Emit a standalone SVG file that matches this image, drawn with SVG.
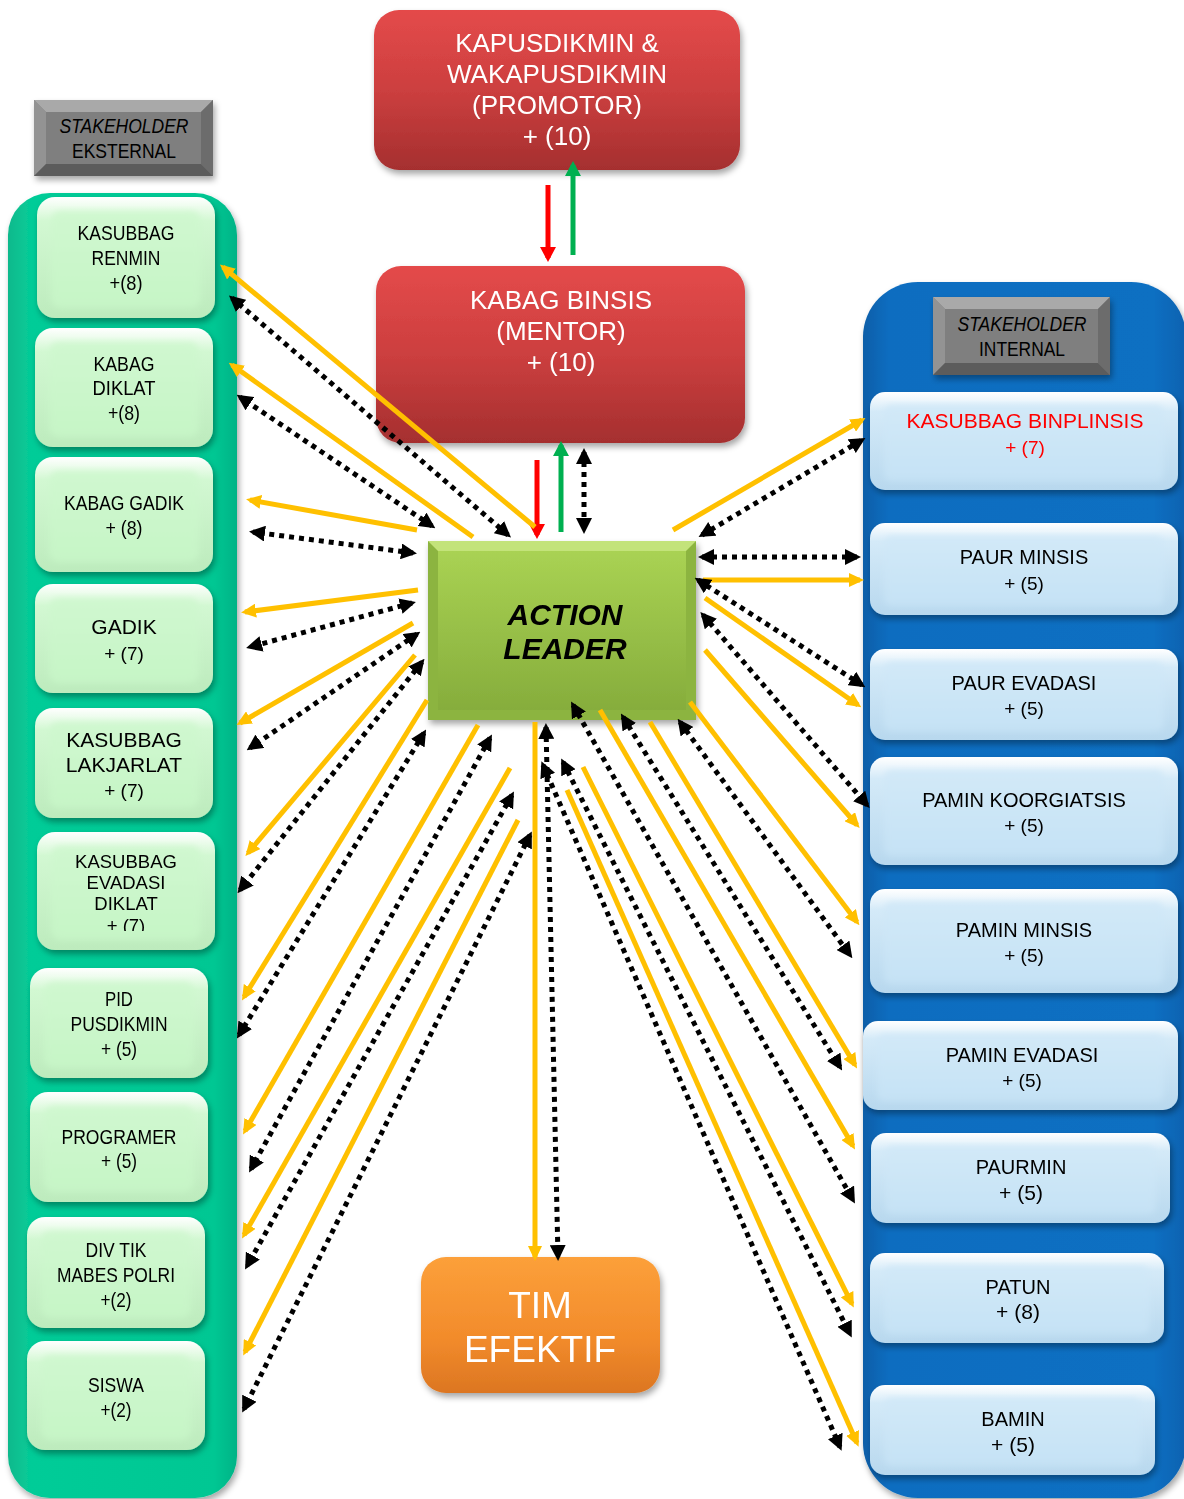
<svg xmlns="http://www.w3.org/2000/svg" width="1184" height="1499" viewBox="0 0 1184 1499">
<style>
text{font-family:"Liberation Sans",Arial,sans-serif;text-anchor:middle;fill:#000}
.n21{font-size:21px}
.n20{font-size:20px}
.n19{font-size:19px}
.n18{font-size:18.5px}
.w{fill:#fff}
.red{fill:#ff0000}
.yl{stroke:#ffc000;stroke-width:5;fill:none;marker-end:url(#ay)}
.dl{stroke:#000;stroke-width:5;stroke-dasharray:5 5;fill:none;marker-start:url(#ab);marker-end:url(#ab)}
.ln{fill:url(#gL)}
.li{fill:url(#gLi)}
.rn{fill:url(#gR)}
.ri{fill:url(#gRi)}
</style>
<defs>
<filter id="sh" x="-10%" y="-10%" width="130%" height="130%"><feDropShadow dx="2" dy="4" stdDeviation="3" flood-color="#000" flood-opacity="0.35"/></filter>
<filter id="bl" x="-5%" y="-5%" width="110%" height="110%"><feGaussianBlur stdDeviation="3"/></filter>
<linearGradient id="gL" x1="0" y1="0" x2="0" y2="1"><stop offset="0" stop-color="#ffffff"/><stop offset="0.2" stop-color="#d2f8d2"/><stop offset="1" stop-color="#bdebbd"/></linearGradient>
<linearGradient id="gLi" x1="0" y1="0" x2="0" y2="1"><stop offset="0" stop-color="#d0f8d0"/><stop offset="1" stop-color="#c6f5c6"/></linearGradient>
<linearGradient id="gR" x1="0" y1="0" x2="0" y2="1"><stop offset="0" stop-color="#ffffff"/><stop offset="0.2" stop-color="#d4eaf8"/><stop offset="1" stop-color="#b8d8ee"/></linearGradient>
<linearGradient id="gRi" x1="0" y1="0" x2="0" y2="1"><stop offset="0" stop-color="#d2e9f8"/><stop offset="1" stop-color="#c5e2f5"/></linearGradient>
<linearGradient id="gRed" x1="0" y1="0" x2="0" y2="1"><stop offset="0" stop-color="#e44a4a"/><stop offset="0.5" stop-color="#cc3f3f"/><stop offset="1" stop-color="#a52f2f"/></linearGradient>
<linearGradient id="gAL" x1="0" y1="0" x2="0" y2="1"><stop offset="0" stop-color="#a9d253"/><stop offset="1" stop-color="#86ad3c"/></linearGradient>
<linearGradient id="gOr" x1="0" y1="0" x2="0" y2="1"><stop offset="0" stop-color="#fca03a"/><stop offset="0.6" stop-color="#f28b2b"/><stop offset="1" stop-color="#dc7622"/></linearGradient>
<linearGradient id="gT" x1="0" y1="0" x2="1" y2="0"><stop offset="0" stop-color="#0fb98c"/><stop offset="0.1" stop-color="#05cc98"/><stop offset="0.9" stop-color="#03c793"/><stop offset="1" stop-color="#02b386"/></linearGradient>
<linearGradient id="gB" x1="0" y1="0" x2="1" y2="0"><stop offset="0" stop-color="#0a5ea8"/><stop offset="0.08" stop-color="#0b6dc0"/><stop offset="0.9" stop-color="#0c6fc2"/><stop offset="1" stop-color="#0a62b0"/></linearGradient>
<marker id="ay" markerUnits="userSpaceOnUse" markerWidth="15" markerHeight="14" viewBox="0 0 15 14" refX="11" refY="7" orient="auto"><path d="M0,0 L15,7 L0,14 z" fill="#ffc000"/></marker>
<marker id="ab" markerUnits="userSpaceOnUse" markerWidth="16" markerHeight="16" viewBox="0 0 16 16" refX="12" refY="8" orient="auto-start-reverse"><path d="M0,0 L16,8 L0,16 z" fill="#000"/></marker>
<marker id="ar" markerUnits="userSpaceOnUse" markerWidth="15" markerHeight="16" viewBox="0 0 15 16" refX="11" refY="8" orient="auto"><path d="M0,0 L15,8 L0,16 z" fill="#ff0000"/></marker>
<marker id="ag" markerUnits="userSpaceOnUse" markerWidth="15" markerHeight="16" viewBox="0 0 15 16" refX="11" refY="8" orient="auto"><path d="M0,0 L15,8 L0,16 z" fill="#00b050"/></marker>
<clipPath id="cEv"><rect x="30" y="830" width="190" height="101"/></clipPath>
</defs>
<rect width="1184" height="1499" fill="#fff"/>

<g id="container-eksternal"><rect x="8" y="193" width="229" height="1305" rx="42" fill="url(#gT)" filter="url(#sh)"/></g>
<g id="container-internal"><rect x="863" y="282" width="323" height="1216" rx="55" fill="url(#gB)" filter="url(#sh)"/></g>

<g id="stakeholder-eksternal">
<g filter="url(#sh)"><rect x="34" y="100" width="179" height="76" fill="#7f7f7f"/></g>
<path d="M34,100 H213 L201,112 H46 Z" fill="#a9a9a9"/><path d="M34,100 L46,112 V164 L34,176 Z" fill="#939393"/><path d="M213,100 L201,112 V164 L213,176 Z" fill="#6c6c6c"/><path d="M34,176 L46,164 H201 L213,176 Z" fill="#5c5c5c"/>
<text x="124" y="133" class="n21" font-style="italic" textLength="129" lengthAdjust="spacingAndGlyphs">STAKEHOLDER</text>
<text x="124" y="158" class="n21" textLength="104" lengthAdjust="spacingAndGlyphs">EKSTERNAL</text>
</g>
<g id="stakeholder-internal">
<g filter="url(#sh)"><rect x="933" y="297" width="177" height="78" fill="#7f7f7f"/></g>
<path d="M933,297 H1110 L1098,309 H945 Z" fill="#a9a9a9"/><path d="M933,297 L945,309 V363 L933,375 Z" fill="#939393"/><path d="M1110,297 L1098,309 V363 L1110,375 Z" fill="#6c6c6c"/><path d="M933,375 L945,363 H1098 L1110,375 Z" fill="#5c5c5c"/>
<text x="1022" y="331" class="n21" font-style="italic" textLength="129" lengthAdjust="spacingAndGlyphs">STAKEHOLDER</text>
<text x="1022" y="356" class="n21" textLength="86" lengthAdjust="spacingAndGlyphs">INTERNAL</text>
</g>

<g id="kasubbag-renmin" filter="url(#sh)"><rect class="ln" x="37" y="197" width="178" height="121" rx="18"/><rect class="li" x="51" y="211" width="150" height="97" rx="10" filter="url(#bl)"/>
<text x="126" y="240" class="n21" textLength="97" lengthAdjust="spacingAndGlyphs">KASUBBAG</text><text x="126" y="265" class="n21" textLength="69" lengthAdjust="spacingAndGlyphs">RENMIN</text><text x="126" y="290" class="n21" textLength="33" lengthAdjust="spacingAndGlyphs">+(8)</text></g>
<g id="kabag-diklat" filter="url(#sh)"><rect class="ln" x="35" y="328" width="178" height="119" rx="18"/><rect class="li" x="49" y="342" width="150" height="95" rx="10" filter="url(#bl)"/>
<text x="124" y="371" class="n21" textLength="61" lengthAdjust="spacingAndGlyphs">KABAG</text><text x="124" y="395" class="n21" textLength="63" lengthAdjust="spacingAndGlyphs">DIKLAT</text><text x="124" y="420" class="n21" textLength="32" lengthAdjust="spacingAndGlyphs">+(8)</text></g>
<g id="kabag-gadik" filter="url(#sh)"><rect class="ln" x="35" y="457" width="178" height="115" rx="18"/><rect class="li" x="49" y="471" width="150" height="91" rx="10" filter="url(#bl)"/>
<text x="124" y="510" class="n21" textLength="120" lengthAdjust="spacingAndGlyphs">KABAG GADIK</text><text x="124" y="535" class="n21" textLength="37" lengthAdjust="spacingAndGlyphs">+ (8)</text></g>
<g id="gadik" filter="url(#sh)"><rect class="ln" x="35" y="584" width="178" height="109" rx="18"/><rect class="li" x="49" y="598" width="150" height="85" rx="10" filter="url(#bl)"/>
<text x="124" y="634" class="n21">GADIK</text><text x="124" y="660" class="n19">+ (7)</text></g>
<g id="kasubbag-lakjarlat" filter="url(#sh)"><rect class="ln" x="35" y="708" width="178" height="110" rx="18"/><rect class="li" x="49" y="722" width="150" height="86" rx="10" filter="url(#bl)"/>
<text x="124" y="747" class="n21">KASUBBAG</text><text x="124" y="772" class="n21">LAKJARLAT</text><text x="124" y="797" class="n19">+ (7)</text></g>
<g id="kasubbag-evadasi-diklat" filter="url(#sh)"><rect class="ln" x="37" y="832" width="178" height="118" rx="18"/><rect class="li" x="51" y="846" width="150" height="94" rx="10" filter="url(#bl)"/>
<g clip-path="url(#cEv)"><text x="126" y="868" class="n18">KASUBBAG</text><text x="126" y="889" class="n18">EVADASI</text><text x="126" y="910" class="n18">DIKLAT</text><text x="126" y="932" class="n18">+ (7)</text></g></g>
<g id="pid-pusdikmin" filter="url(#sh)"><rect class="ln" x="30" y="968" width="178" height="110" rx="18"/><rect class="li" x="44" y="982" width="150" height="86" rx="10" filter="url(#bl)"/>
<text x="119" y="1006" class="n21" textLength="28" lengthAdjust="spacingAndGlyphs">PID</text><text x="119" y="1031" class="n21" textLength="97" lengthAdjust="spacingAndGlyphs">PUSDIKMIN</text><text x="119" y="1056" class="n21" textLength="36" lengthAdjust="spacingAndGlyphs">+ (5)</text></g>
<g id="programer" filter="url(#sh)"><rect class="ln" x="30" y="1092" width="178" height="110" rx="18"/><rect class="li" x="44" y="1106" width="150" height="86" rx="10" filter="url(#bl)"/>
<text x="119" y="1144" class="n21" textLength="115" lengthAdjust="spacingAndGlyphs">PROGRAMER</text><text x="119" y="1168" class="n21" textLength="36" lengthAdjust="spacingAndGlyphs">+ (5)</text></g>
<g id="div-tik-mabes-polri" filter="url(#sh)"><rect class="ln" x="27" y="1217" width="178" height="111" rx="18"/><rect class="li" x="41" y="1231" width="150" height="87" rx="10" filter="url(#bl)"/>
<text x="116" y="1257" class="n21" textLength="61" lengthAdjust="spacingAndGlyphs">DIV TIK</text><text x="116" y="1282" class="n21" textLength="118" lengthAdjust="spacingAndGlyphs">MABES POLRI</text><text x="116" y="1307" class="n21" textLength="31" lengthAdjust="spacingAndGlyphs">+(2)</text></g>
<g id="siswa" filter="url(#sh)"><rect class="ln" x="27" y="1341" width="178" height="109" rx="18"/><rect class="li" x="41" y="1355" width="150" height="85" rx="10" filter="url(#bl)"/>
<text x="116" y="1392" class="n21" textLength="56" lengthAdjust="spacingAndGlyphs">SISWA</text><text x="116" y="1417" class="n21" textLength="31" lengthAdjust="spacingAndGlyphs">+(2)</text></g>

<g id="kasubbag-binplinsis" filter="url(#sh)"><rect class="rn" x="870" y="392" width="308" height="98" rx="15"/><rect class="ri" x="884" y="405" width="280" height="76" rx="8" filter="url(#bl)"/>
<text x="1025" y="428" class="n21 red">KASUBBAG BINPLINSIS</text><text x="1025" y="454" class="n19 red">+ (7)</text></g>
<g id="paur-minsis" filter="url(#sh)"><rect class="rn" x="870" y="523" width="308" height="92" rx="15"/><rect class="ri" x="884" y="536" width="280" height="70" rx="8" filter="url(#bl)"/>
<text x="1024" y="564" class="n20">PAUR MINSIS</text><text x="1024" y="590" class="n19">+ (5)</text></g>
<g id="paur-evadasi" filter="url(#sh)"><rect class="rn" x="870" y="649" width="308" height="91" rx="15"/><rect class="ri" x="884" y="662" width="280" height="69" rx="8" filter="url(#bl)"/>
<text x="1024" y="690" class="n20">PAUR EVADASI</text><text x="1024" y="715" class="n19">+ (5)</text></g>
<g id="pamin-koorgiatsis" filter="url(#sh)"><rect class="rn" x="870" y="757" width="308" height="108" rx="15"/><rect class="ri" x="884" y="770" width="280" height="86" rx="8" filter="url(#bl)"/>
<text x="1024" y="807" class="n20">PAMIN KOORGIATSIS</text><text x="1024" y="832" class="n19">+ (5)</text></g>
<g id="pamin-minsis" filter="url(#sh)"><rect class="rn" x="870" y="889" width="308" height="104" rx="15"/><rect class="ri" x="884" y="902" width="280" height="82" rx="8" filter="url(#bl)"/>
<text x="1024" y="937" class="n20">PAMIN MINSIS</text><text x="1024" y="962" class="n19">+ (5)</text></g>
<g id="pamin-evadasi" filter="url(#sh)"><rect class="rn" x="863" y="1021" width="315" height="89" rx="15"/><rect class="ri" x="877" y="1034" width="287" height="67" rx="8" filter="url(#bl)"/>
<text x="1022" y="1062" class="n20">PAMIN EVADASI</text><text x="1022" y="1087" class="n19">+ (5)</text></g>
<g id="paurmin" filter="url(#sh)"><rect class="rn" x="871" y="1133" width="299" height="90" rx="15"/><rect class="ri" x="885" y="1146" width="271" height="68" rx="8" filter="url(#bl)"/>
<text x="1021" y="1174" class="n20">PAURMIN</text><text x="1021" y="1200" class="n21">+ (5)</text></g>
<g id="patun" filter="url(#sh)"><rect class="rn" x="870" y="1253" width="294" height="90" rx="15"/><rect class="ri" x="884" y="1266" width="266" height="68" rx="8" filter="url(#bl)"/>
<text x="1018" y="1294" class="n20">PATUN</text><text x="1018" y="1319" class="n21">+ (8)</text></g>
<g id="bamin" filter="url(#sh)"><rect class="rn" x="870" y="1385" width="285" height="90" rx="15"/><rect class="ri" x="884" y="1398" width="257" height="68" rx="8" filter="url(#bl)"/>
<text x="1013" y="1426" class="n20">BAMIN</text><text x="1013" y="1452" class="n21">+ (5)</text></g>

<g id="kapusdikmin" filter="url(#sh)"><rect x="374" y="10" width="366" height="160" rx="25" fill="url(#gRed)"/>
<text x="557" y="52" class="w" font-size="26">KAPUSDIKMIN &amp;</text><text x="557" y="83" class="w" font-size="26">WAKAPUSDIKMIN</text><text x="557" y="114" class="w" font-size="26">(PROMOTOR)</text><text x="557" y="145" class="w" font-size="26">+ (10)</text></g>
<g id="kabag-binsis" filter="url(#sh)"><rect x="376" y="266" width="369" height="177" rx="25" fill="url(#gRed)"/>
<text x="561" y="309" class="w" font-size="26">KABAG BINSIS</text><text x="561" y="340" class="w" font-size="26">(MENTOR)</text><text x="561" y="371" class="w" font-size="26">+ (10)</text></g>
<g id="action-leader" filter="url(#sh)"><rect x="428" y="541" width="268" height="179" fill="#8cb440"/><path d="M428,541 H696 L686,551 H438 Z" fill="#c3e37a"/><rect x="438" y="551" width="248" height="159" fill="url(#gAL)"/>
<text x="565" y="625" font-size="30" font-weight="bold" font-style="italic">ACTION</text><text x="565" y="659" font-size="30" font-weight="bold" font-style="italic">LEADER</text></g>
<g id="tim-efektif" filter="url(#sh)"><rect x="421" y="1257" width="239" height="136" rx="25" fill="url(#gOr)"/>
<text x="540" y="1318" class="w" font-size="37">TIM</text><text x="540" y="1362" class="w" font-size="37">EFEKTIF</text></g>

<g id="connectors">
<line x1="548" y1="185" x2="548" y2="258" stroke="#ff0000" stroke-width="5" marker-end="url(#ar)"/>
<line x1="573" y1="255" x2="573" y2="165" stroke="#00b050" stroke-width="5" marker-end="url(#ag)"/>
<line x1="537" y1="460" x2="537" y2="535" stroke="#ff0000" stroke-width="5" marker-end="url(#ar)"/>
<line x1="561" y1="532" x2="561" y2="445" stroke="#00b050" stroke-width="5" marker-end="url(#ag)"/>
<line class="dl" x1="584" y1="452" x2="584" y2="530"/>
<line class="yl" x1="535" y1="527" x2="223" y2="267"/>
<line class="yl" x1="473" y1="537" x2="232" y2="365"/>
<line class="yl" x1="417" y1="530" x2="250" y2="500"/>
<line class="yl" x1="418" y1="590" x2="245" y2="612"/>
<line class="yl" x1="413" y1="623" x2="240" y2="723"/>
<line class="yl" x1="415" y1="655" x2="248" y2="853"/>
<line class="yl" x1="427" y1="700" x2="244" y2="997"/>
<line class="yl" x1="478" y1="725" x2="245" y2="1131"/>
<line class="yl" x1="510" y1="768" x2="244" y2="1235"/>
<line class="yl" x1="518" y1="820" x2="245" y2="1352"/>
<line class="yl" x1="535" y1="722" x2="535" y2="1257"/>
<line class="yl" x1="673" y1="530" x2="862" y2="420"/>
<line class="yl" x1="703" y1="580" x2="860" y2="580"/>
<line class="yl" x1="705" y1="598" x2="858" y2="705"/>
<line class="yl" x1="705" y1="650" x2="857" y2="825"/>
<line class="yl" x1="690" y1="702" x2="857" y2="922"/>
<line class="yl" x1="650" y1="722" x2="855" y2="1065"/>
<line class="yl" x1="600" y1="710" x2="853" y2="1146"/>
<line class="yl" x1="583" y1="767" x2="852" y2="1304"/>
<line class="yl" x1="567" y1="790" x2="857" y2="1443"/>
<line class="dl" x1="508" y1="535" x2="232" y2="298"/>
<line class="dl" x1="432" y1="526" x2="240" y2="397"/>
<line class="dl" x1="413" y1="553" x2="253" y2="532"/>
<line class="dl" x1="412" y1="603" x2="250" y2="647"/>
<line class="dl" x1="417" y1="634" x2="250" y2="748"/>
<line class="dl" x1="422" y1="662" x2="240" y2="890"/>
<line class="dl" x1="424" y1="733" x2="239" y2="1035"/>
<line class="dl" x1="490" y1="738" x2="251" y2="1169"/>
<line class="dl" x1="512" y1="795" x2="247" y2="1266"/>
<line class="dl" x1="530" y1="835" x2="244" y2="1409"/>
<line class="dl" x1="546" y1="727" x2="558" y2="1257"/>
<line class="dl" x1="702" y1="535" x2="862" y2="440"/>
<line class="dl" x1="702" y1="557" x2="857" y2="557"/>
<line class="dl" x1="698" y1="580" x2="862" y2="685"/>
<line class="dl" x1="703" y1="615" x2="867" y2="805"/>
<line class="dl" x1="680" y1="722" x2="850" y2="955"/>
<line class="dl" x1="623" y1="717" x2="840" y2="1067"/>
<line class="dl" x1="573" y1="705" x2="853" y2="1200"/>
<line class="dl" x1="563" y1="762" x2="850" y2="1334"/>
<line class="dl" x1="543" y1="765" x2="840" y2="1447"/>
</g>
</svg>
